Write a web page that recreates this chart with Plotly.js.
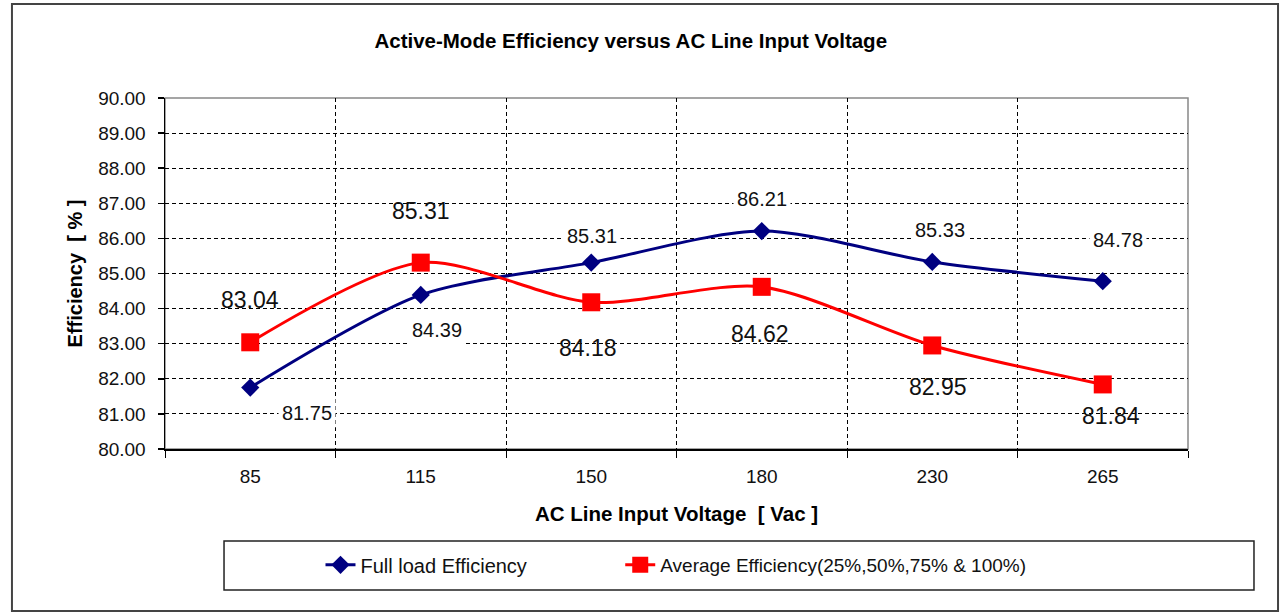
<!DOCTYPE html>
<html>
<head>
<meta charset="utf-8">
<script src="https://cdn.plot.ly/plotly-3.0.1.min.js"></script>
<style>html,body{margin:0;padding:0;background:#fff;}#chart{width:1282px;height:614px;}</style>
</head>
<body>
<div id="chart"></div>
<script>
const voltages = ["85", "115", "150", "180", "230", "265"];
const fullLoad = [81.75, 84.39, 85.31, 86.21, 85.33, 84.78];
const average = [83.04, 85.31, 84.18, 84.62, 82.95, 81.84];
const yTicks = [80, 81, 82, 83, 84, 85, 86, 87, 88, 89, 90];

// label offsets (pixels) for each point
const fullShiftX = [57, 16, 1, 0, 8, 15];
const fullShiftY = [-25, -35, 27, 32, 32, 41];
const avgShiftX = [0, 0, -3, -2, 6, 8];
const avgShiftY = [42, 52, -46, -47, -42, -32];

const FONT = 'Liberation Sans, Arial, sans-serif';
const xIdx = voltages.map((_, i) => i);

const traces = [
  {
    x: xIdx, y: fullLoad, name: 'Full load Efficiency', type: 'scatter', mode: 'lines+markers',
    line: {color: '#000080', width: 3, shape: 'spline', smoothing: 0.8},
    marker: {symbol: 'diamond', size: 14, color: '#000080'}, legend: 'legend'
  },
  {
    x: xIdx, y: average, name: 'Average Efficiency(25%,50%,75% & 100%)', type: 'scatter', mode: 'lines+markers',
    line: {color: '#FF0000', width: 3, shape: 'spline', smoothing: 0.8},
    marker: {symbol: 'square', size: 18, color: '#FF0000'}, legend: 'legend2'
  }
];

const annotations = [];
fullLoad.forEach((v, i) => {
  annotations.push({x: xIdx[i], y: v, xref: 'x', yref: 'y', text: v.toFixed(2), showarrow: false,
    xshift: fullShiftX[i], yshift: fullShiftY[i], bgcolor: '#ffffff', borderpad: 3,
    font: {family: FONT, size: 20, color: '#111'}});
});
average.forEach((v, i) => {
  annotations.push({x: xIdx[i], y: v, xref: 'x', yref: 'y', text: v.toFixed(2), showarrow: false,
    xshift: avgShiftX[i], yshift: avgShiftY[i],
    font: {family: FONT, size: 23, color: '#111'}});
});

const legendBase = {
  orientation: 'h', xanchor: 'left', y: -0.33, yanchor: 'middle',
  bgcolor: 'rgba(0,0,0,0)', borderwidth: 0
};

const layout = {
  width: 1282, height: 614,
  margin: {l: 165, r: 94, t: 98, b: 165},
  paper_bgcolor: '#fff', plot_bgcolor: '#fff',
  font: {family: FONT, color: '#111'},
  showlegend: true,
  title: {text: '<b>Active-Mode Efficiency versus AC Line Input Voltage</b>', font: {family: FONT, size: 20.5, color: '#000'},
    x: 0.492, xanchor: 'center', y: 0.933, yanchor: 'middle', xref: 'container', yref: 'container'},
  xaxis: {
    range: [-0.5, 5.5], tickvals: xIdx, ticktext: voltages, ticks: '',
    showgrid: false, zeroline: false, showline: true, linecolor: '#000', linewidth: 1.5,
    tickfont: {family: FONT, size: 19, color: '#111'}, ticklabelstandoff: 10,
    minor: {tickvals: [0.5, 1.5, 2.5, 3.5, 4.5, 5.5, -0.5], ticks: 'outside', ticklen: 7, tickcolor: '#000', tickwidth: 1,
      showgrid: true, gridcolor: '#000', griddash: '4px,3px', gridwidth: 1},
    title: {text: '<b>AC Line Input Voltage&nbsp; [ Vac ]</b>', font: {family: FONT, size: 20.5, color: '#000'}, standoff: 20},
    fixedrange: true
  },
  yaxis: {
    range: [80, 90], tickvals: yTicks, ticktext: yTicks.map(v => v.toFixed(2)),
    ticks: 'outside', ticklen: 6, tickcolor: '#000', tickwidth: 1.5,
    showgrid: true, gridcolor: '#000', griddash: '4px,3px', gridwidth: 1,
    zeroline: false, showline: true, linecolor: '#000', linewidth: 1.5,
    tickfont: {family: FONT, size: 19, color: '#111'}, ticklabelstandoff: 8,
    title: {text: '<b>Efficiency&nbsp; [ % ]</b>', font: {family: FONT, size: 20, color: '#000'}, standoff: 10},
    fixedrange: true
  },
  legend: Object.assign({}, legendBase, {x: 0.152, font: {family: FONT, size: 20, color: '#111'}}),
  legend2: Object.assign({}, legendBase, {x: 0.445, font: {family: FONT, size: 19, color: '#111'}}),
  shapes: [
    {type: 'rect', xref: 'paper', yref: 'paper', x0: 0, x1: 1, y0: 0, y1: 1, line: {color: '#888', width: 1.5}, layer: 'below'},
    {type: 'rect', xref: 'paper', yref: 'paper', x0: 0.0577, x1: 1.0645, y0: -0.4017, y1: -0.262, line: {color: '#222', width: 1.5}},
    {type: 'rect', xref: 'paper', yref: 'paper', x0: -0.1496, x1: 1.088, y0: -0.4615, y1: 1.268, line: {color: '#444', width: 2}}
  ],
  annotations: annotations
};

Plotly.newPlot('chart', traces, layout, {displayModeBar: false, staticPlot: true});
</script>
</body>
</html>
